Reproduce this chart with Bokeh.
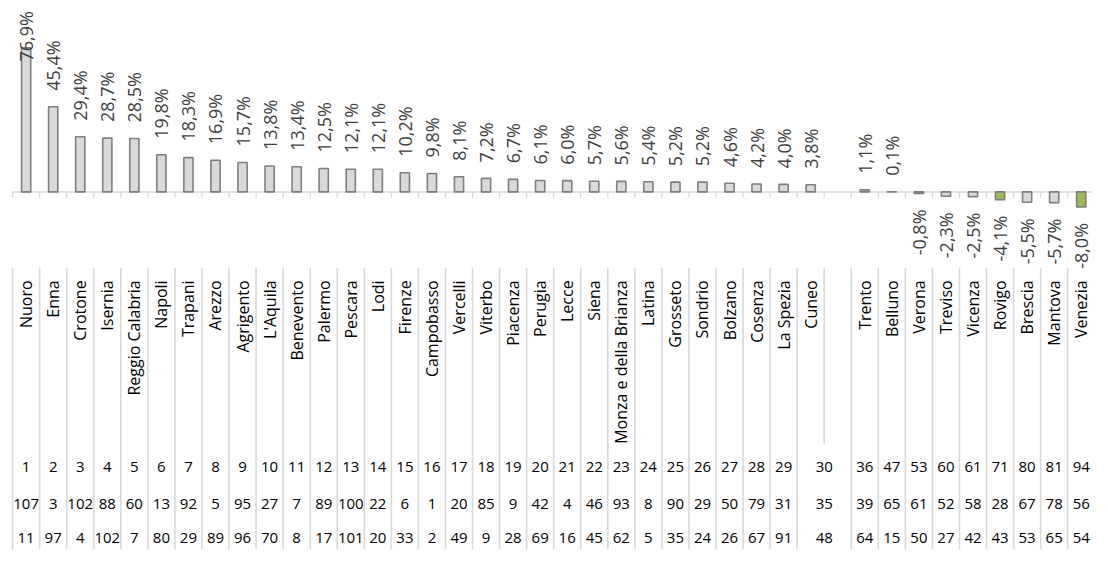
import math
from bokeh.plotting import figure
from bokeh.models import Range1d
from bokeh.core.properties import value
from bokeh.embed import file_html
from bokeh.resources import INLINE

# ---------------- data ----------------
provinces = ["Nuoro", "Enna", "Crotone", "Isernia", "Reggio Calabria", "Napoli",
             "Trapani", "Arezzo", "Agrigento", "L'Aquila", "Benevento", "Palermo",
             "Pescara", "Lodi", "Firenze", "Campobasso", "Vercelli", "Viterbo",
             "Piacenza", "Perugia", "Lecce", "Siena", "Monza e della Brianza",
             "Latina", "Grosseto", "Sondrio", "Bolzano", "Cosenza", "La Spezia",
             "Cuneo", "",
             "Trento", "Belluno", "Verona", "Treviso", "Vicenza", "Rovigo",
             "Brescia", "Mantova", "Venezia"]

variation = [76.9, 45.4, 29.4, 28.7, 28.5, 19.8, 18.3, 16.9, 15.7, 13.8,
             13.4, 12.5, 12.1, 12.1, 10.2, 9.8, 8.1, 7.2, 6.7, 6.1,
             6.0, 5.7, 5.6, 5.4, 5.2, 5.2, 4.6, 4.2, 4.0, 3.8,
             None,
             1.1, 0.1, -0.8, -2.3, -2.5, -4.1, -5.5, -5.7, -8.0]

rank_1 = ["1", "2", "3", "4", "5", "6", "7", "8", "9", "10", "11", "12", "13",
          "14", "15", "16", "17", "18", "19", "20", "21", "22", "23", "24", "25",
          "26", "27", "28", "29", "30", None,
          "36", "47", "53", "60", "61", "71", "80", "81", "94"]
rank_2 = ["107", "3", "102", "88", "60", "13", "92", "5", "95", "27", "7", "89",
          "100", "22", "6", "1", "20", "85", "9", "42", "4", "46", "93", "8",
          "90", "29", "50", "79", "31", "35", None,
          "39", "65", "61", "52", "58", "28", "67", "78", "56"]
rank_3 = ["11", "97", "4", "102", "7", "80", "29", "89", "96", "70", "8", "17",
          "101", "20", "33", "2", "49", "9", "28", "69", "16", "45", "62", "5",
          "35", "24", "26", "67", "91", "48", None,
          "64", "15", "50", "27", "42", "43", "53", "65", "54"]

highlighted = ["Rovigo", "Venezia"]

# ---------------- styling / layout ----------------
GRAY_FILL = "#d9d9d9"
GRAY_LINE = "#7f7f7f"
GREEN_FILL = "#9bbb59"
GRID = "#d9d9d9"
FONT = value("Open Sans")

W, H = 1092, 549
REF_W, REF_H = 1108, 565
PX_PER_UNIT = 1.93      # reference pixels per percentage point
ZERO_PX = 197.0         # reference pixel row of the zero line
SLOT_PX = 27.45
FIRST_PX = 26.0


def yd(ref_px):
    return (ZERO_PX - ref_px) / PX_PER_UNIT


def xd(ref_px):
    return (ref_px - FIRST_PX) / SLOT_PX


n = len(provinces)

p = figure(width=W, height=H,
           x_range=Range1d(xd(0), xd(REF_W)),
           y_range=Range1d(yd(REF_H), yd(0)),
           output_backend="svg", toolbar_location=None,
           x_axis_location=None, y_axis_location=None,
           min_border=0)
p.grid.visible = False
p.outline_line_color = None
p.background_fill_color = "white"
p.border_fill_color = "white"

# zero line and tick marks
bounds = [i - 0.5 for i in range(n + 1)]
p.segment(x0=[bounds[0]], y0=[0], x1=[bounds[-1]], y1=[0],
          line_color=GRID, line_width=1.5)
tick_len = 6 / PX_PER_UNIT
p.segment(x0=bounds, y0=[0] * len(bounds), x1=bounds,
          y1=[-tick_len] * len(bounds), line_color=GRID, line_width=1.2)

# bars
bx, bv, bfill = [], [], []
for i, (name, v) in enumerate(zip(provinces, variation)):
    if v is None:
        continue
    bx.append(i)
    bv.append(v)
    bfill.append(GREEN_FILL if name in highlighted else GRAY_FILL)
p.vbar(x=bx, top=bv, bottom=0, width=0.34, fill_color=bfill,
       line_color=GRAY_LINE, line_width=1.6)

# data labels
gap = 16.5 / PX_PER_UNIT
label_len = 58 / PX_PER_UNIT
top_limit = yd(11)
pos_x, pos_y, pos_t = [], [], []
clamp_x, clamp_y, clamp_t = [], [], []
neg_x, neg_y, neg_t = [], [], []
for i, v in zip(bx, bv):
    txt = f"{v:.1f}%".replace(".", ",")
    if v >= 0:
        if v + gap + label_len > yd(0):
            clamp_x.append(i); clamp_y.append(top_limit); clamp_t.append(txt)
        else:
            pos_x.append(i); pos_y.append(v + gap); pos_t.append(txt)
    else:
        neg_x.append(i); neg_y.append(v - gap); neg_t.append(txt)

lab_kw = dict(angle=math.pi / 2, text_baseline="middle", text_font=FONT,
              text_font_size="18px", text_color="#404040")
p.text(x=pos_x, y=pos_y, text=pos_t, text_align="left", **lab_kw)
p.text(x=clamp_x, y=clamp_y, text=clamp_t, text_align="right", **lab_kw)
p.text(x=neg_x, y=neg_y, text=neg_t, text_align="right", **lab_kw)

# category table: vertical separators
table_top = yd(275)
table_bottom = yd(REF_H + 5)
short_bottom = yd(456)
lx0, ly0, lx1, ly1 = [], [], [], []
for k, b in enumerate(bounds):
    left = provinces[k - 1] if k - 1 >= 0 else None
    right = provinces[k] if k < n else None
    bottom = short_bottom if (left and right == "") else table_bottom
    lx0.append(b); ly0.append(table_top); lx1.append(b); ly1.append(bottom)
p.segment(x0=lx0, y0=ly0, x1=lx1, y1=ly1, line_color=GRID, line_width=1.6)

# province names
names_x = [i for i, nm in enumerate(provinces) if nm]
names_t = [nm for nm in provinces if nm]
p.text(x=names_x, y=[yd(288)] * len(names_x), text=names_t,
       angle=math.pi / 2, text_align="right", text_baseline="middle",
       text_font=FONT, text_font_size="16px", text_color="#000000")

# rank rows (a cell followed by a blank slot is merged with it)
for row, ref_y in ((rank_1, 480), (rank_2, 518), (rank_3, 553)):
    rx, rt = [], []
    for i, t in enumerate(row):
        if t is None:
            continue
        merged = i + 1 < n and provinces[i + 1] == ""
        rx.append(i + 0.5 if merged else i)
        rt.append(t)
    p.text(x=rx, y=[yd(ref_y)] * len(rx), text=rt, text_align="center",
           text_baseline="middle", text_font=FONT, text_font_size="15px",
           text_color="#000000")

open("out.html", "w").write(file_html(p, INLINE))
